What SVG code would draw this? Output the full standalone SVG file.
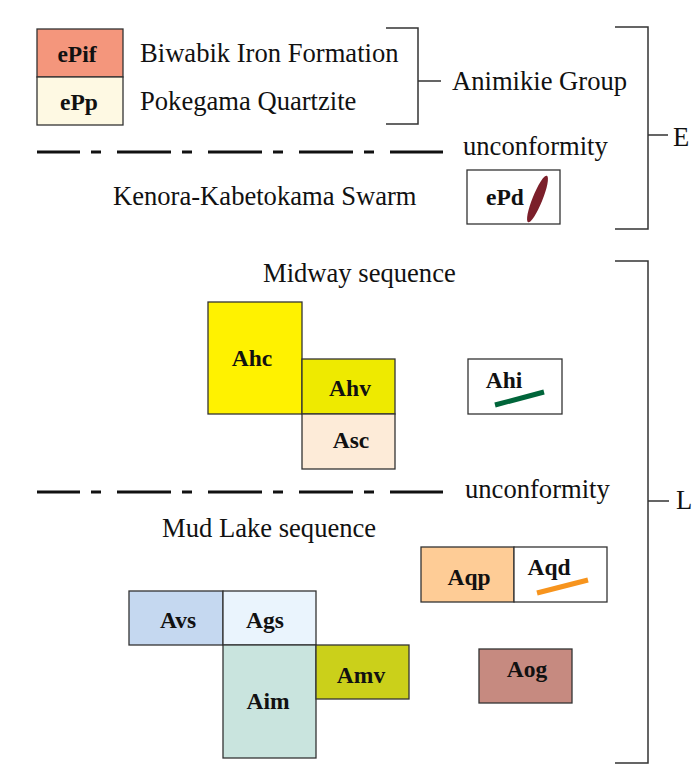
<svg xmlns="http://www.w3.org/2000/svg" width="693" height="778" viewBox="0 0 693 778">
<defs>
<style>
.box{stroke:#333;stroke-width:1.3}
.lbl{font-family:"Liberation Serif","Times New Roman",serif;font-weight:bold;font-size:23.5px;fill:#111;text-anchor:middle}
.txt{font-family:"Liberation Serif","Times New Roman",serif;font-size:26.6px;fill:#111}
.brk{fill:none;stroke:#333;stroke-width:1.5}
.unc{fill:none;stroke:#111;stroke-width:3;stroke-dasharray:54 11 10 16;stroke-dashoffset:11}
</style>
</defs>
<rect width="693" height="778" fill="#fff"/>

<g id="ePif"><rect class="box" x="37" y="29" width="86" height="48" fill="#F4967C"/><text class="lbl" x="77" y="62">ePif</text></g>
<g id="ePp"><rect class="box" x="37" y="77" width="86" height="48" fill="#FEF9E3"/><text class="lbl" x="79" y="110">ePp</text></g>
<text class="txt" x="140" y="62">Biwabik Iron Formation</text>
<text class="txt" x="140" y="110">Pokegama Quartzite</text>
<text class="txt" x="452" y="90">Animikie Group</text>

<g id="connectors">
<path class="brk" d="M386 28H418V124H386M418 81H441"/>
<path class="brk" d="M615 27H648V229H615M648 135H668"/>
<path class="brk" d="M615 261H648V763H615M648 501H669"/>
<line class="unc" x1="37" y1="152" x2="443" y2="152"/>
<line class="unc" x1="37" y1="492" x2="443" y2="492"/>
</g>

<text class="txt" x="463" y="155">unconformity</text>
<text class="txt" x="673" y="146">E</text>
<text class="txt" x="113" y="205">Kenora-Kabetokama Swarm</text>
<g id="ePd"><rect class="box" x="467" y="170" width="93" height="54" fill="#fff"/><text class="lbl" x="505" y="205">ePd</text><ellipse cx="537.5" cy="199" rx="5" ry="25" fill="#7B1F2A" transform="rotate(22 537.5 199)"/></g>

<text class="txt" x="263" y="282">Midway sequence</text>
<g id="Ahc"><rect class="box" x="208" y="302" width="94" height="112" fill="#FFF200"/><text class="lbl" x="252" y="366">Ahc</text></g>
<g id="Ahv"><rect class="box" x="302" y="359" width="93" height="55" fill="#EEEA00"/><text class="lbl" x="350" y="396">Ahv</text></g>
<g id="Asc"><rect class="box" x="302" y="414" width="93" height="55" fill="#FDEBD8"/><text class="lbl" x="351" y="448">Asc</text></g>
<g id="Ahi"><rect class="box" x="468" y="359" width="94" height="55" fill="#fff"/><text class="lbl" x="504" y="388">Ahi</text><line x1="495" y1="405" x2="544" y2="392" stroke="#00653A" stroke-width="5"/></g>

<text class="txt" x="465" y="498">unconformity</text>
<text class="txt" x="676" y="509">L</text>
<text class="txt" x="162" y="537">Mud Lake sequence</text>

<g id="Aqp"><rect class="box" x="421" y="547" width="93" height="55" fill="#FECC96"/><text class="lbl" x="469" y="585">Aqp</text></g>
<g id="Aqd"><rect class="box" x="514" y="547" width="93" height="55" fill="#fff"/><text class="lbl" x="549" y="575">Aqd</text><line x1="537" y1="593" x2="588" y2="580" stroke="#F7941D" stroke-width="5"/></g>
<g id="Avs"><rect class="box" x="129" y="591" width="94" height="54" fill="#C5D8F0"/><text class="lbl" x="178" y="628">Avs</text></g>
<g id="Ags"><rect class="box" x="223" y="591" width="93" height="54" fill="#EAF4FD"/><text class="lbl" x="265" y="628">Ags</text></g>
<g id="Aim"><rect class="box" x="223" y="645" width="93" height="113" fill="#C9E4DE"/><text class="lbl" x="268" y="709">Aim</text></g>
<g id="Amv"><rect class="box" x="316" y="645" width="93" height="54" fill="#CBD01A"/><text class="lbl" x="361" y="683">Amv</text></g>
<g id="Aog"><rect class="box" x="479" y="649" width="93" height="54" fill="#C68A80"/><text class="lbl" x="527" y="677">Aog</text></g>
</svg>
